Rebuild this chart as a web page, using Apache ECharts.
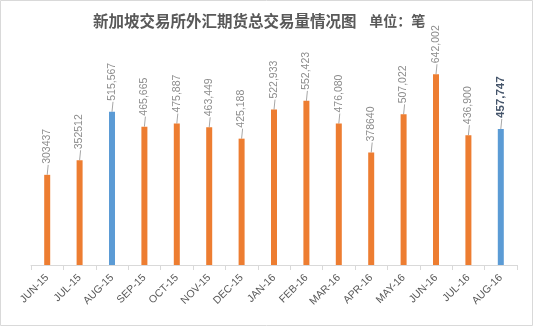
<!DOCTYPE html>
<html><head><meta charset="utf-8">
<script src="https://cdn.jsdelivr.net/npm/echarts@6/dist/echarts.min.js"></script>
<style>html,body{margin:0;padding:0;background:#fff}#c{width:533px;height:326px}</style>
</head><body><div id="c"></div>
<script>
const categories = ['JUN-15','JUL-15','AUG-15','SEP-15','OCT-15','NOV-15','DEC-15','JAN-16','FEB-16','MAR-16','APR-16','MAY-16','JUN-16','JUL-16','AUG-16'];
const volumes = [303437,352512,515567,465665,475887,463449,425188,522933,552423,476080,378640,507022,642002,436900,457747];
const valueLabels = ['303437','352512','515,567','465,665','475,887','463,449','425,188','522,933','552,423','476,080','378640','507,022','642,002','436,900','457,747'];
const highlighted = ['AUG-15','AUG-16'];

const chart = echarts.init(document.getElementById('c'), null, {renderer:'canvas'});
const data = volumes.map((v,i)=>{
  const hi = highlighted.includes(categories[i]);
  const last = i === volumes.length-1;
  return {
    value: v,
    itemStyle: {color: hi ? '#5B9BD5' : '#ED7D31'},
    label: last ? {fontWeight:'bold', color:'#44546A', fontSize:11.5} : {}
  };
});
chart.setOption({
  animation:false,
  title:{
    text:'{a|新加坡交易所外汇期货总交易量情况图}{b|    单位：笔}',
    left:88, top:8,
    textStyle:{rich:{
      a:{fontSize:15.5, fontWeight:'bold', color:'#595959', fontFamily:'Noto Sans CJK SC'},
      b:{fontSize:14, fontWeight:'bold', color:'#595959', fontFamily:'Noto Sans CJK SC'}
    }}
  },
  graphic:[{type:'rect', shape:{x:0.5,y:0.5,width:532,height:325}, style:{fill:'none', stroke:'#d9d9d9', lineWidth:1}, silent:true}],
  grid:{left:31, right:16, top:57, bottom:61},
  xAxis:{
    type:'category', data:categories,
    axisLine:{lineStyle:{color:'#d9d9d9'}},
    axisTick:{show:true, length:5, lineStyle:{color:'#d9d9d9'}},
    axisLabel:{rotate:45, fontSize:10.5, color:'#595959', margin:11, fontFamily:'Liberation Sans', interval:0}
  },
  yAxis:{type:'value', min:0, max:700000, show:false, splitLine:{show:false}},
  series:[{
    type:'bar', data:data, barWidth:6,
    label:{
      show:true, position:'top', rotate:90, distance:10,
      align:'left', verticalAlign:'middle', offset:[1,0],
      fontSize:10.5, color:'#8c8c8c', fontFamily:'Liberation Sans',
      formatter:p=>valueLabels[p.dataIndex]
    }
  },{
    type:'custom', silent:true, data:volumes,
    renderItem:(params, api)=>{
      const p = api.coord([api.value(0), api.value(1)]);
      return {type:'line', shape:{x1:p[0], y1:p[1], x2:p[0]+1, y2:p[1]-10}, style:{stroke:'#a6a6a6', lineWidth:1}};
    },
    encode:{x:0, y:1},
    z:1
  }]
});
</script></body></html>
